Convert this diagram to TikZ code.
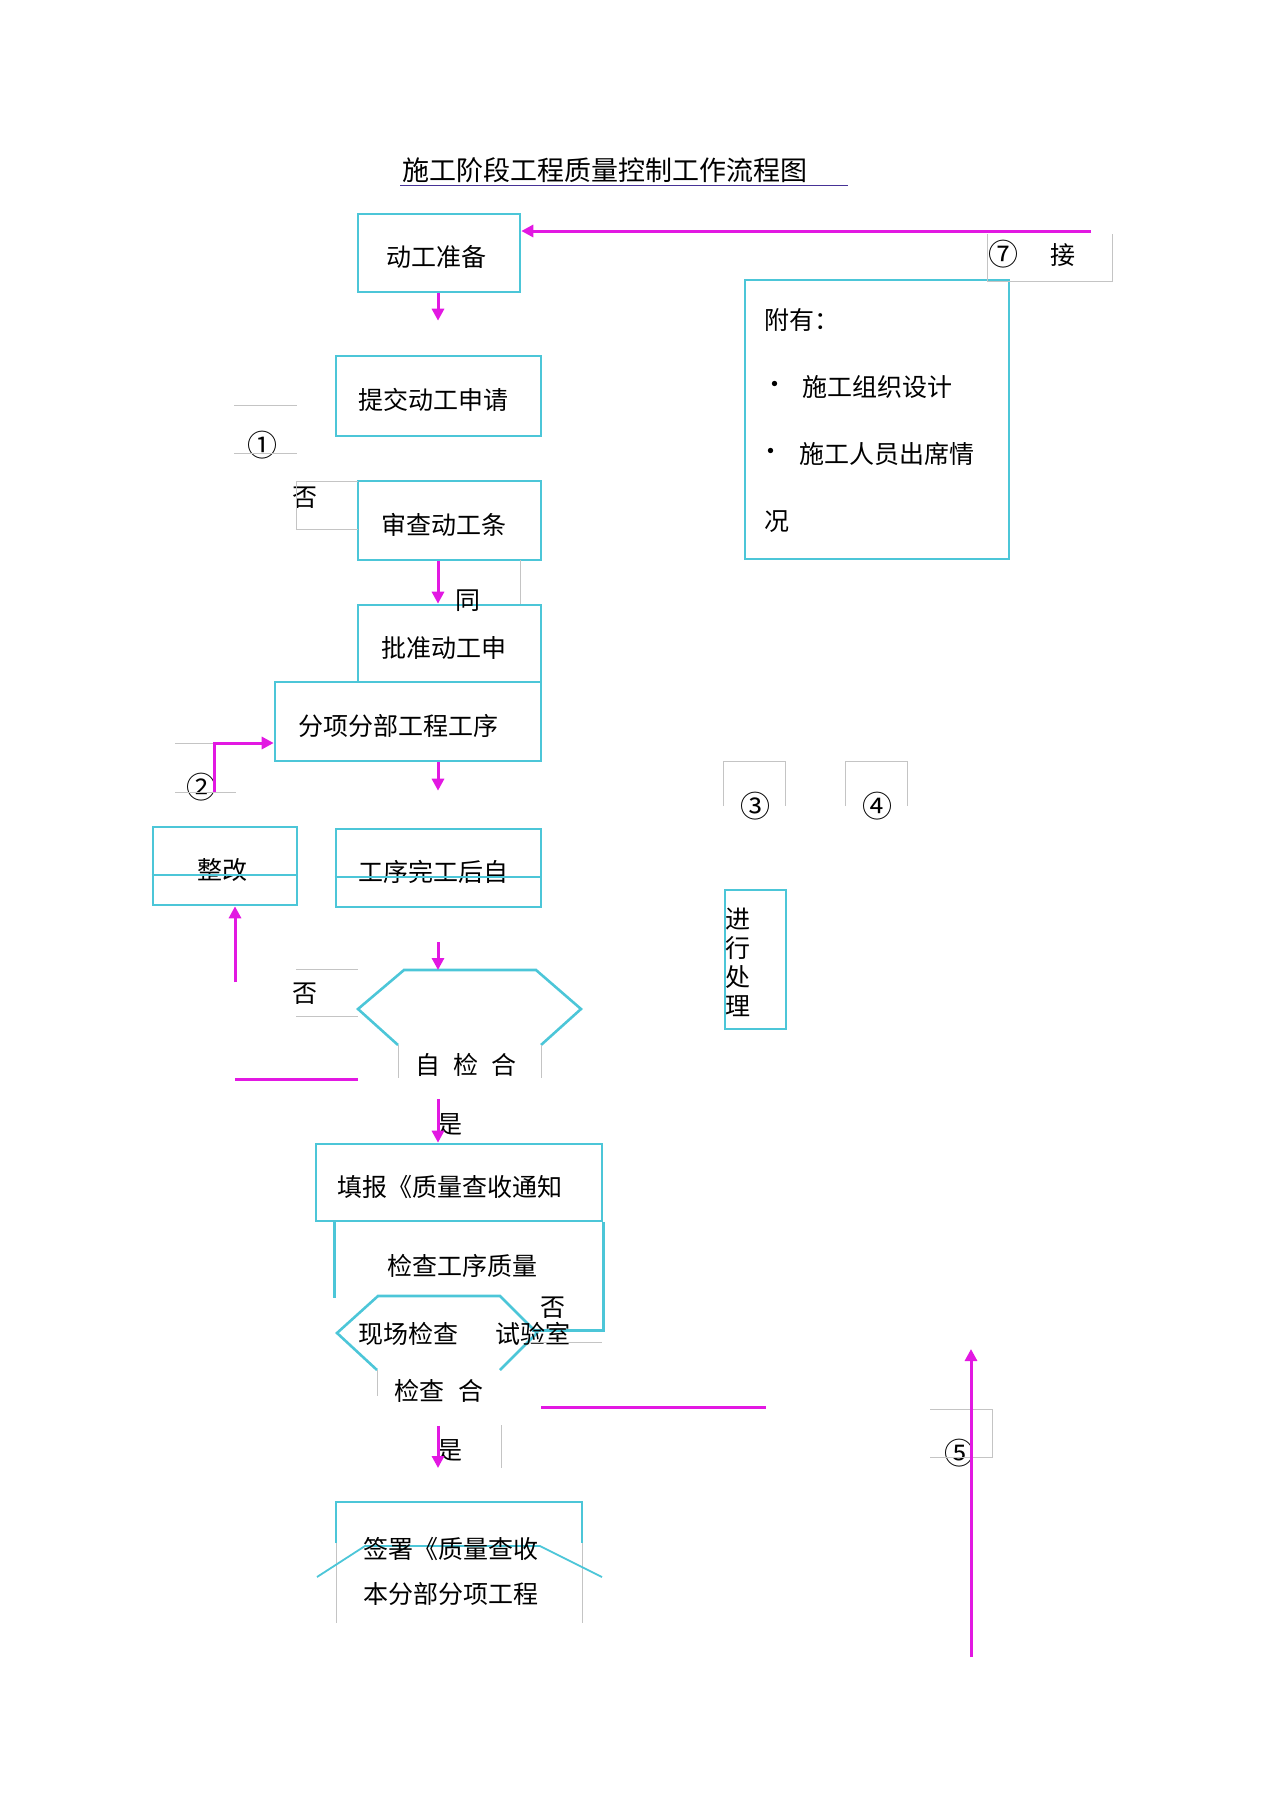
\documentclass[tikz,border=0pt]{standalone}
\usepackage{fontspec}
\setmainfont{Noto Sans CJK SC}
\usepackage{tikz}
\usetikzlibrary{arrows.meta,calc,positioning}
\definecolor{boxcyan}{RGB}{76,198,216}
\definecolor{flowmag}{RGB}{226,24,226}
\definecolor{guidegray}{RGB}{196,196,196}
\definecolor{titleblue}{RGB}{70,50,150}
\tikzstyle{flowbox}=[draw=boxcyan,line width=2.6pt,inner sep=0pt]
\tikzstyle{flowtext}=[inner sep=0pt]
\tikzstyle{marktext}=[inner sep=0pt,font=\fontsize{30}{32}\selectfont]
\tikzstyle{hexline}=[draw=boxcyan,line width=2.6pt]
\tikzstyle{guide}=[draw=guidegray,line width=1pt]
\tikzstyle{flowline}=[draw=flowmag,line width=3pt]
\tikzstyle{flowedge}=[-{Triangle[width=12pt,length=12pt]},flowline]
\newcommand{\boxtext}[2]{\raisebox{-4pt}[\height][\depth]{#1\kern#2}}

\begin{document}
\begin{tikzpicture}[x=1pt,y=-1pt,font=\fontsize{25}{30}\selectfont]
\useasboundingbox (0,0) rectangle (1274,1804);
\coordinate (axis) at (438,0);

	% Title
    \node[flowtext, font=\fontsize{27}{32}\selectfont] (title) at (605,170) {施工阶段工程质量控制工作流程图};
    \draw[titleblue, line width=1pt] (400,185) -- (848,185);

	% Main column
    \node[flowbox, minimum width=162, minimum height=78] (prep) at (439,253) {\boxtext{动工准备}{6pt}};
    \node[flowbox, minimum width=205, minimum height=80] (submit) at (438.5,396) {\boxtext{提交动工申请}{10pt}};
    \node[flowbox, minimum width=183, minimum height=79] (review) at (449.5,520.5) {\boxtext{审查动工条}{12pt}};
    \node[flowbox, minimum width=183, minimum height=77] (approve) at (449.5,643.5) {\boxtext{批准动工申}{12pt}};
    \node[flowbox, minimum width=266, minimum height=79] (split) at (408,721.5) {\boxtext{分项分部工程工序}{20pt}};
    \node[flowbox, minimum width=205, minimum height=78] (done) at (438.5,868) {\boxtext{工序完工后自}{10pt}};
    \node[flowbox, minimum width=144, minimum height=78] (fix) at (225,866) {\boxtext{整改}{6pt}};
    \draw[hexline, line width=1.5pt] ([yshift=-9pt]done.west) -- ([yshift=-9pt]done.east);
    \draw[hexline, line width=1.5pt] ([yshift=-9pt]fix.west) -- ([yshift=-9pt]fix.east);

	% Self check
    \draw[hexline] (398,1045) -- (358,1009) -- (404,970) coordinate (hexa) -- (536,970) -- (581,1009) -- (541,1045);
    \node[flowtext] (selfchk) at (466,1065) {自\hspace{13pt}检\hspace{13pt}合};

    \node[flowbox, minimum width=286, minimum height=77] (fill) at (459,1182.5) {\boxtext{填报《质量查收通知}{18pt}};
    \draw[hexline] ([xshift=20pt]fill.south west) -- ++(0,76);
    \draw[hexline] (fill.south east) -- ++(0,108) -- ++(-71,0);
    \node[flowtext] (chkq) at (462,1266) {检查工序质量};
    \draw[hexline] (377,1370) -- (337,1333) -- (378,1296) -- (500,1296) -- (537,1333) -- (500,1370);
    \node[flowtext] (site) at (408,1334) {现场检查};
    \node[flowtext] (lab) at (533,1334) {试验室};
    \node[flowtext] (chkok) at (439,1391) {检查\hspace{14pt}合};

	% Sign off
    \draw[hexline] (336,1543) coordinate (signbl) -- (336,1502) coordinate (signtl) -- (582,1502) -- (582,1543);
    \draw[guide] (336,1543) -- (336,1623);
    \draw[guide] (582,1543) -- (582,1623);
    \draw[hexline, line width=1.8pt] (317,1577) -- (365,1546) -- (540,1546) -- (602,1577);
    \node[flowtext] (sign) at (451,1549) {签署《质量查收};
    \node[flowtext] (signb) at (451,1594) {本分部分项工程};

	% Annex
    \node[flowbox, minimum width=264, minimum height=279] (annex) at (877,419.5) {};
    \node[flowtext, anchor=west] (ann0) at (764,320) {附有：};
    \node[flowtext] (bul1) at (775,387) {\textbullet};
    \node[flowtext, anchor=west] (ann1) at (802,387) {施工组织设计};
    \node[flowtext] (bul2) at (771,454) {\textbullet};
    \node[flowtext, anchor=west] (ann2) at (799,454) {施工人员出席情};
    \node[flowtext, anchor=west] (ann3) at (764,522) {况};

	% Handling
    \node[flowbox, minimum width=61, minimum height=139] (handle) at (755.5,959.5) {};
    \node[flowtext, anchor=west, align=left, font=\fontsize{25}{29}\selectfont] (handlet) at (725,962) {进\\行\\处\\理};

	% Marks and labels
    \node[marktext] (m7) at (1003,254) {⑦};
    \node[flowtext] (jie) at (1063,255) {接};
    \node[marktext] (m1) at (262,445) {①};
    \node[flowtext] (no1) at (305,498) {否};
    \node[flowtext] (tong) at (468,601) {同};
    \node[marktext] (m2) at (201,787) {②};
    \node[flowtext] (no2) at (305,994) {否};
    \node[flowtext] (yes1) at (450,1125) {是};
    \node[flowtext] (no3) at (553,1308) {否};
    \node[flowtext] (yes2) at (450,1451) {是};
    \node[marktext] (m5) at (959,1453) {⑤};
    \foreach \gx/\lab in {723/③,845/④} {
        \draw[guide] (\gx,806) -- (\gx,761) -- (\gx+62,761) -- (\gx+62,806);
        \node[marktext] (mk-\gx) at (\gx+32,806) {\lab};
    }

	% Guide lines
    \draw[guide] (987,234) -- (987,281) -- (1112,281) -- (1112,234);
    \draw[guide] (234,405) -- (297,405);
    \draw[guide] (234,453) -- (297,453);
    \draw[guide] (358,481) -- (296,481) -- (296,529) -- (358,529);
    \draw[guide] (520,560) -- (520,604);
    \draw[guide] (175,743) -- (214,743);
    \draw[guide] (175,792) -- (236,792);
    \draw[guide] (296,969) -- (358,969);
    \draw[guide] (296,1016) -- (358,1016);
    \draw[guide] (398,1045) -- (398,1078);
    \draw[guide] (541,1045) -- (541,1078);
    \draw[guide] (531,1342) -- (602,1342);
    \draw[guide] (377,1370) -- (377,1396);
    \draw[guide] (501,1425) -- (501,1468);
    \draw[guide] (930,1409) -- (992,1409) -- (992,1457) -- (930,1457);

	% Arrows
    \coordinate (c7) at (1091,231);
    \coordinate (r2) at (214,792);
    \coordinate (fixin) at (235,982);
    \coordinate (c5a) at (971,1657);
    \coordinate (c5b) at (971,1349);
    \draw[flowedge] (c7) -- (c7 -| prep.east);
    \draw[flowedge, shorten >=34pt] (prep.south -| axis) -- (submit.north -| axis);
    \draw[flowedge] (review.south -| axis) -- (approve.north -| axis);
    \draw[flowedge, shorten >=37pt] (split.south -| axis) -- (done.north -| axis);
    \draw[flowedge, shorten <=34pt] (done.south -| axis) -- (hexa -| axis);
    \draw[flowedge, shorten <=22pt] (selfchk.south -| axis) -- (fill.north -| axis);
    \draw[flowedge, shorten <=23pt, shorten >=34pt] (chkok.south -| axis) -- (signtl -| axis);
    \draw[flowedge] (r2) |- ([yshift=-21.5pt]split.west);
    \draw[flowedge] (fixin) -- (fixin |- fix.south);
    \draw[flowedge] (c5a) -- (c5b);
    \draw[flowline] (235,1079) -- (358,1079);
    \draw[flowline] (541,1407) -- (766,1407);

\end{tikzpicture}
\end{document}
